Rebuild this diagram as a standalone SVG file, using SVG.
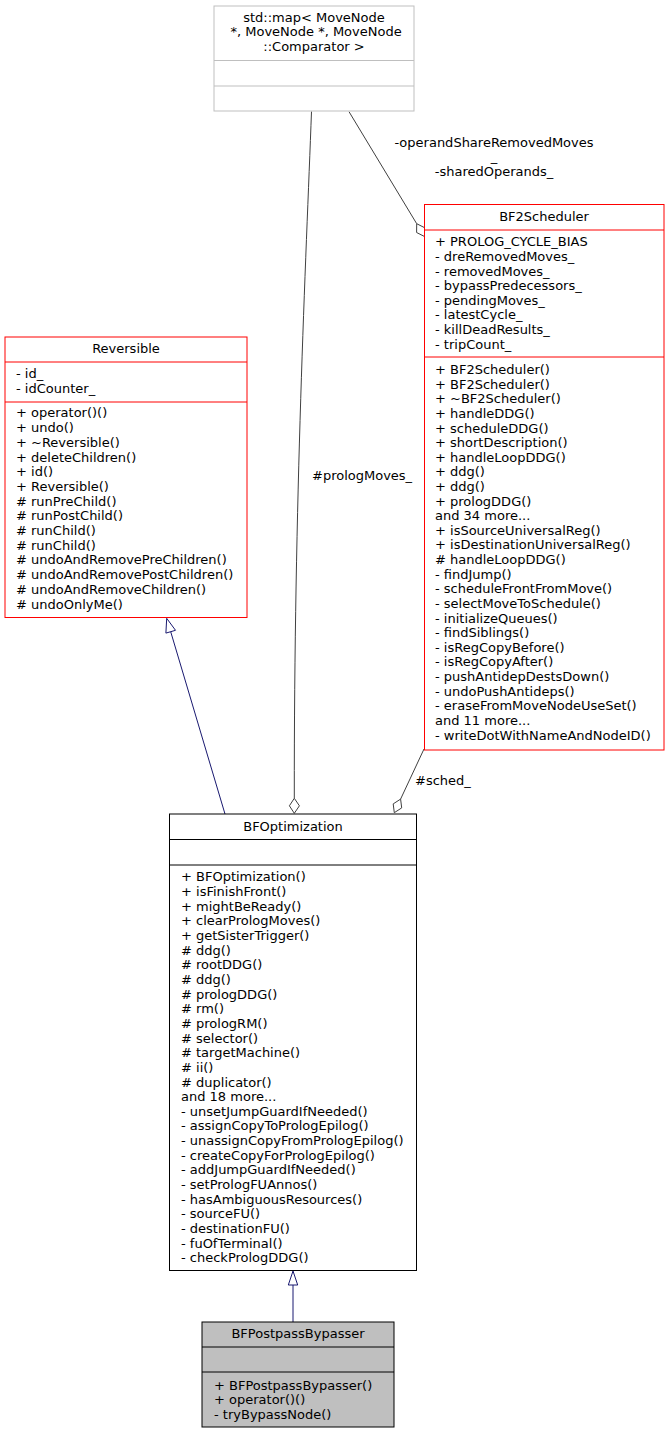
<svg xmlns="http://www.w3.org/2000/svg" width="669" height="1433" viewBox="0 0 669 1433">
<style>
text{font-family:"DejaVu Sans",sans-serif;font-size:13px;fill:#000}
.c{text-anchor:middle}
.box{fill:#fff;stroke:#000;stroke-width:1}
.red{fill:#fff;stroke:#ff0000;stroke-width:1}
.gray{fill:#fff;stroke:#bfbfbf;stroke-width:1}
.cur{fill:#bfbfbf;stroke:#000;stroke-width:1}
.ln{stroke:#000;stroke-width:1}
.lnr{stroke:#ff0000;stroke-width:1}
.lng{stroke:#bfbfbf;stroke-width:1}
.agg{fill:none;stroke:#404040;stroke-width:1}
.dia{fill:#fff;stroke:#404040;stroke-width:1}
.inh{fill:none;stroke:#191970;stroke-width:1}
.tri{fill:#fff;stroke:#191970;stroke-width:1}
</style>
<rect width="669" height="1433" fill="#fff"/>
<g id="connectors">
<path class="agg" d="M311.5,111.5 C306,260 294,500 294.3,798.3"/>
<polygon class="dia" points="294.3,813.3 289.4,805.8 294.3,798.3 299.4,805.8"/>
<path class="agg" d="M349,111.7 L416.7,223.7"/>
<polygon class="dia" points="424.5,236.5 416.6,232.5 416.7,223.7 424.6,227.7"/>
<path class="agg" d="M424,749 L400.6,799.1"/>
<polygon class="dia" points="394.3,812.7 393.2,803.9 400.6,799.1 401.7,807.9"/>
<path class="inh" d="M225,814 L170.7,631.7"/>
<polygon class="tri" points="166.7,618.3 165.9,633.1 175.5,630.3"/>
<path class="inh" d="M293,1322 L293,1285"/>
<polygon class="tri" points="293,1271 288.3,1285 297.7,1285"/>
<text x="312" y="480">#prologMoves_</text>
<text class="c" x="494" y="147">-operandShareRemovedMoves</text>
<text class="c" x="494" y="161">_</text>
<text class="c" x="494" y="176">-sharedOperands_</text>
<text x="415" y="784.5">#sched_</text>
</g>
<g id="std_map">
<rect class="gray" x="214" y="6" width="200" height="105"/>
<line class="lng" x1="214" y1="60.5" x2="414" y2="60.5"/>
<line class="lng" x1="214" y1="86" x2="414" y2="86"/>
<text class="c" x="314" y="21.5">std::map&lt; MoveNode</text>
<text class="c" x="314" y="36.2" xml:space="preserve"> *, MoveNode *, MoveNode</text>
<text class="c" x="314" y="50.8">::Comparator &gt;</text>
</g>
<g id="BF2Scheduler">
<rect class="red" x="424.5" y="204.5" width="239.5" height="545.5"/>
<line class="lnr" x1="424.5" y1="230" x2="664" y2="230"/>
<line class="lnr" x1="424.5" y1="357" x2="664" y2="357"/>
<text class="c" x="544" y="220.7">BF2Scheduler</text>
<text x="435" y="246.3">+ PROLOG_CYCLE_BIAS</text>
<text x="435" y="260.9">- dreRemovedMoves_</text>
<text x="435" y="275.6">- removedMoves_</text>
<text x="435" y="290.2">- bypassPredecessors_</text>
<text x="435" y="304.8">- pendingMoves_</text>
<text x="435" y="319.4">- latestCycle_</text>
<text x="435" y="334.1">- killDeadResults_</text>
<text x="435" y="348.7">- tripCount_</text>
<text x="435" y="374.0">+ BF2Scheduler()</text>
<text x="435" y="388.6">+ BF2Scheduler()</text>
<text x="435" y="403.2">+ ~BF2Scheduler()</text>
<text x="435" y="417.9">+ handleDDG()</text>
<text x="435" y="432.5">+ scheduleDDG()</text>
<text x="435" y="447.1">+ shortDescription()</text>
<text x="435" y="461.7">+ handleLoopDDG()</text>
<text x="435" y="476.3">+ ddg()</text>
<text x="435" y="491.0">+ ddg()</text>
<text x="435" y="505.6">+ prologDDG()</text>
<text x="435" y="520.2">and 34 more...</text>
<text x="435" y="534.8">+ isSourceUniversalReg()</text>
<text x="435" y="549.4">+ isDestinationUniversalReg()</text>
<text x="435" y="564.1"># handleLoopDDG()</text>
<text x="435" y="578.7">- findJump()</text>
<text x="435" y="593.3">- scheduleFrontFromMove()</text>
<text x="435" y="607.9">- selectMoveToSchedule()</text>
<text x="435" y="622.5">- initializeQueues()</text>
<text x="435" y="637.2">- findSiblings()</text>
<text x="435" y="651.8">- isRegCopyBefore()</text>
<text x="435" y="666.4">- isRegCopyAfter()</text>
<text x="435" y="681.0">- pushAntidepDestsDown()</text>
<text x="435" y="695.6">- undoPushAntideps()</text>
<text x="435" y="710.3">- eraseFromMoveNodeUseSet()</text>
<text x="435" y="724.9">and 11 more...</text>
<text x="435" y="739.5">- writeDotWithNameAndNodeID()</text>
</g>
<g id="Reversible">
<rect class="red" x="5" y="337" width="242" height="280.5"/>
<line class="lnr" x1="5" y1="362" x2="247" y2="362"/>
<line class="lnr" x1="5" y1="402" x2="247" y2="402"/>
<text class="c" x="126" y="352.5">Reversible</text>
<text x="16" y="378">- id_</text>
<text x="16" y="392.7">- idCounter_</text>
<text x="16" y="417.4">+ operator()()</text>
<text x="16" y="432.1">+ undo()</text>
<text x="16" y="446.8">+ ~Reversible()</text>
<text x="16" y="461.5">+ deleteChildren()</text>
<text x="16" y="476.2">+ id()</text>
<text x="16" y="490.9">+ Reversible()</text>
<text x="16" y="505.6"># runPreChild()</text>
<text x="16" y="520.3"># runPostChild()</text>
<text x="16" y="535.0"># runChild()</text>
<text x="16" y="549.7"># runChild()</text>
<text x="16" y="564.4"># undoAndRemovePreChildren()</text>
<text x="16" y="579.1"># undoAndRemovePostChildren()</text>
<text x="16" y="593.8"># undoAndRemoveChildren()</text>
<text x="16" y="608.5"># undoOnlyMe()</text>
</g>
<g id="BFOptimization">
<rect class="box" x="169.5" y="814" width="247" height="456.5"/>
<line class="ln" x1="169.5" y1="839.5" x2="416.5" y2="839.5"/>
<line class="ln" x1="169.5" y1="865" x2="416.5" y2="865"/>
<text class="c" x="293" y="830.7">BFOptimization</text>
<text x="181" y="881.4">+ BFOptimization()</text>
<text x="181" y="896.0">+ isFinishFront()</text>
<text x="181" y="910.7">+ mightBeReady()</text>
<text x="181" y="925.3">+ clearPrologMoves()</text>
<text x="181" y="940.0">+ getSisterTrigger()</text>
<text x="181" y="954.6"># ddg()</text>
<text x="181" y="969.3"># rootDDG()</text>
<text x="181" y="983.9"># ddg()</text>
<text x="181" y="998.6"># prologDDG()</text>
<text x="181" y="1013.2"># rm()</text>
<text x="181" y="1027.9"># prologRM()</text>
<text x="181" y="1042.5"># selector()</text>
<text x="181" y="1057.2"># targetMachine()</text>
<text x="181" y="1071.8"># ii()</text>
<text x="181" y="1086.5"># duplicator()</text>
<text x="181" y="1101.1">and 18 more...</text>
<text x="181" y="1115.8">- unsetJumpGuardIfNeeded()</text>
<text x="181" y="1130.4">- assignCopyToPrologEpilog()</text>
<text x="181" y="1145.1">- unassignCopyFromPrologEpilog()</text>
<text x="181" y="1159.7">- createCopyForPrologEpilog()</text>
<text x="181" y="1174.4">- addJumpGuardIfNeeded()</text>
<text x="181" y="1189.0">- setPrologFUAnnos()</text>
<text x="181" y="1203.7">- hasAmbiguousResources()</text>
<text x="181" y="1218.3">- sourceFU()</text>
<text x="181" y="1233.0">- destinationFU()</text>
<text x="181" y="1247.6">- fuOfTerminal()</text>
<text x="181" y="1262.3">- checkPrologDDG()</text>
</g>
<g id="BFPostpassBypasser">
<rect class="cur" x="202" y="1322" width="192" height="105"/>
<line class="ln" x1="202" y1="1347" x2="394" y2="1347"/>
<line class="ln" x1="202" y1="1372" x2="394" y2="1372"/>
<text class="c" x="298" y="1337.7">BFPostpassBypasser</text>
<text x="214" y="1389.7">+ BFPostpassBypasser()</text>
<text x="214" y="1404.3">+ operator()()</text>
<text x="214" y="1419">- tryBypassNode()</text>
</g>
</svg>
